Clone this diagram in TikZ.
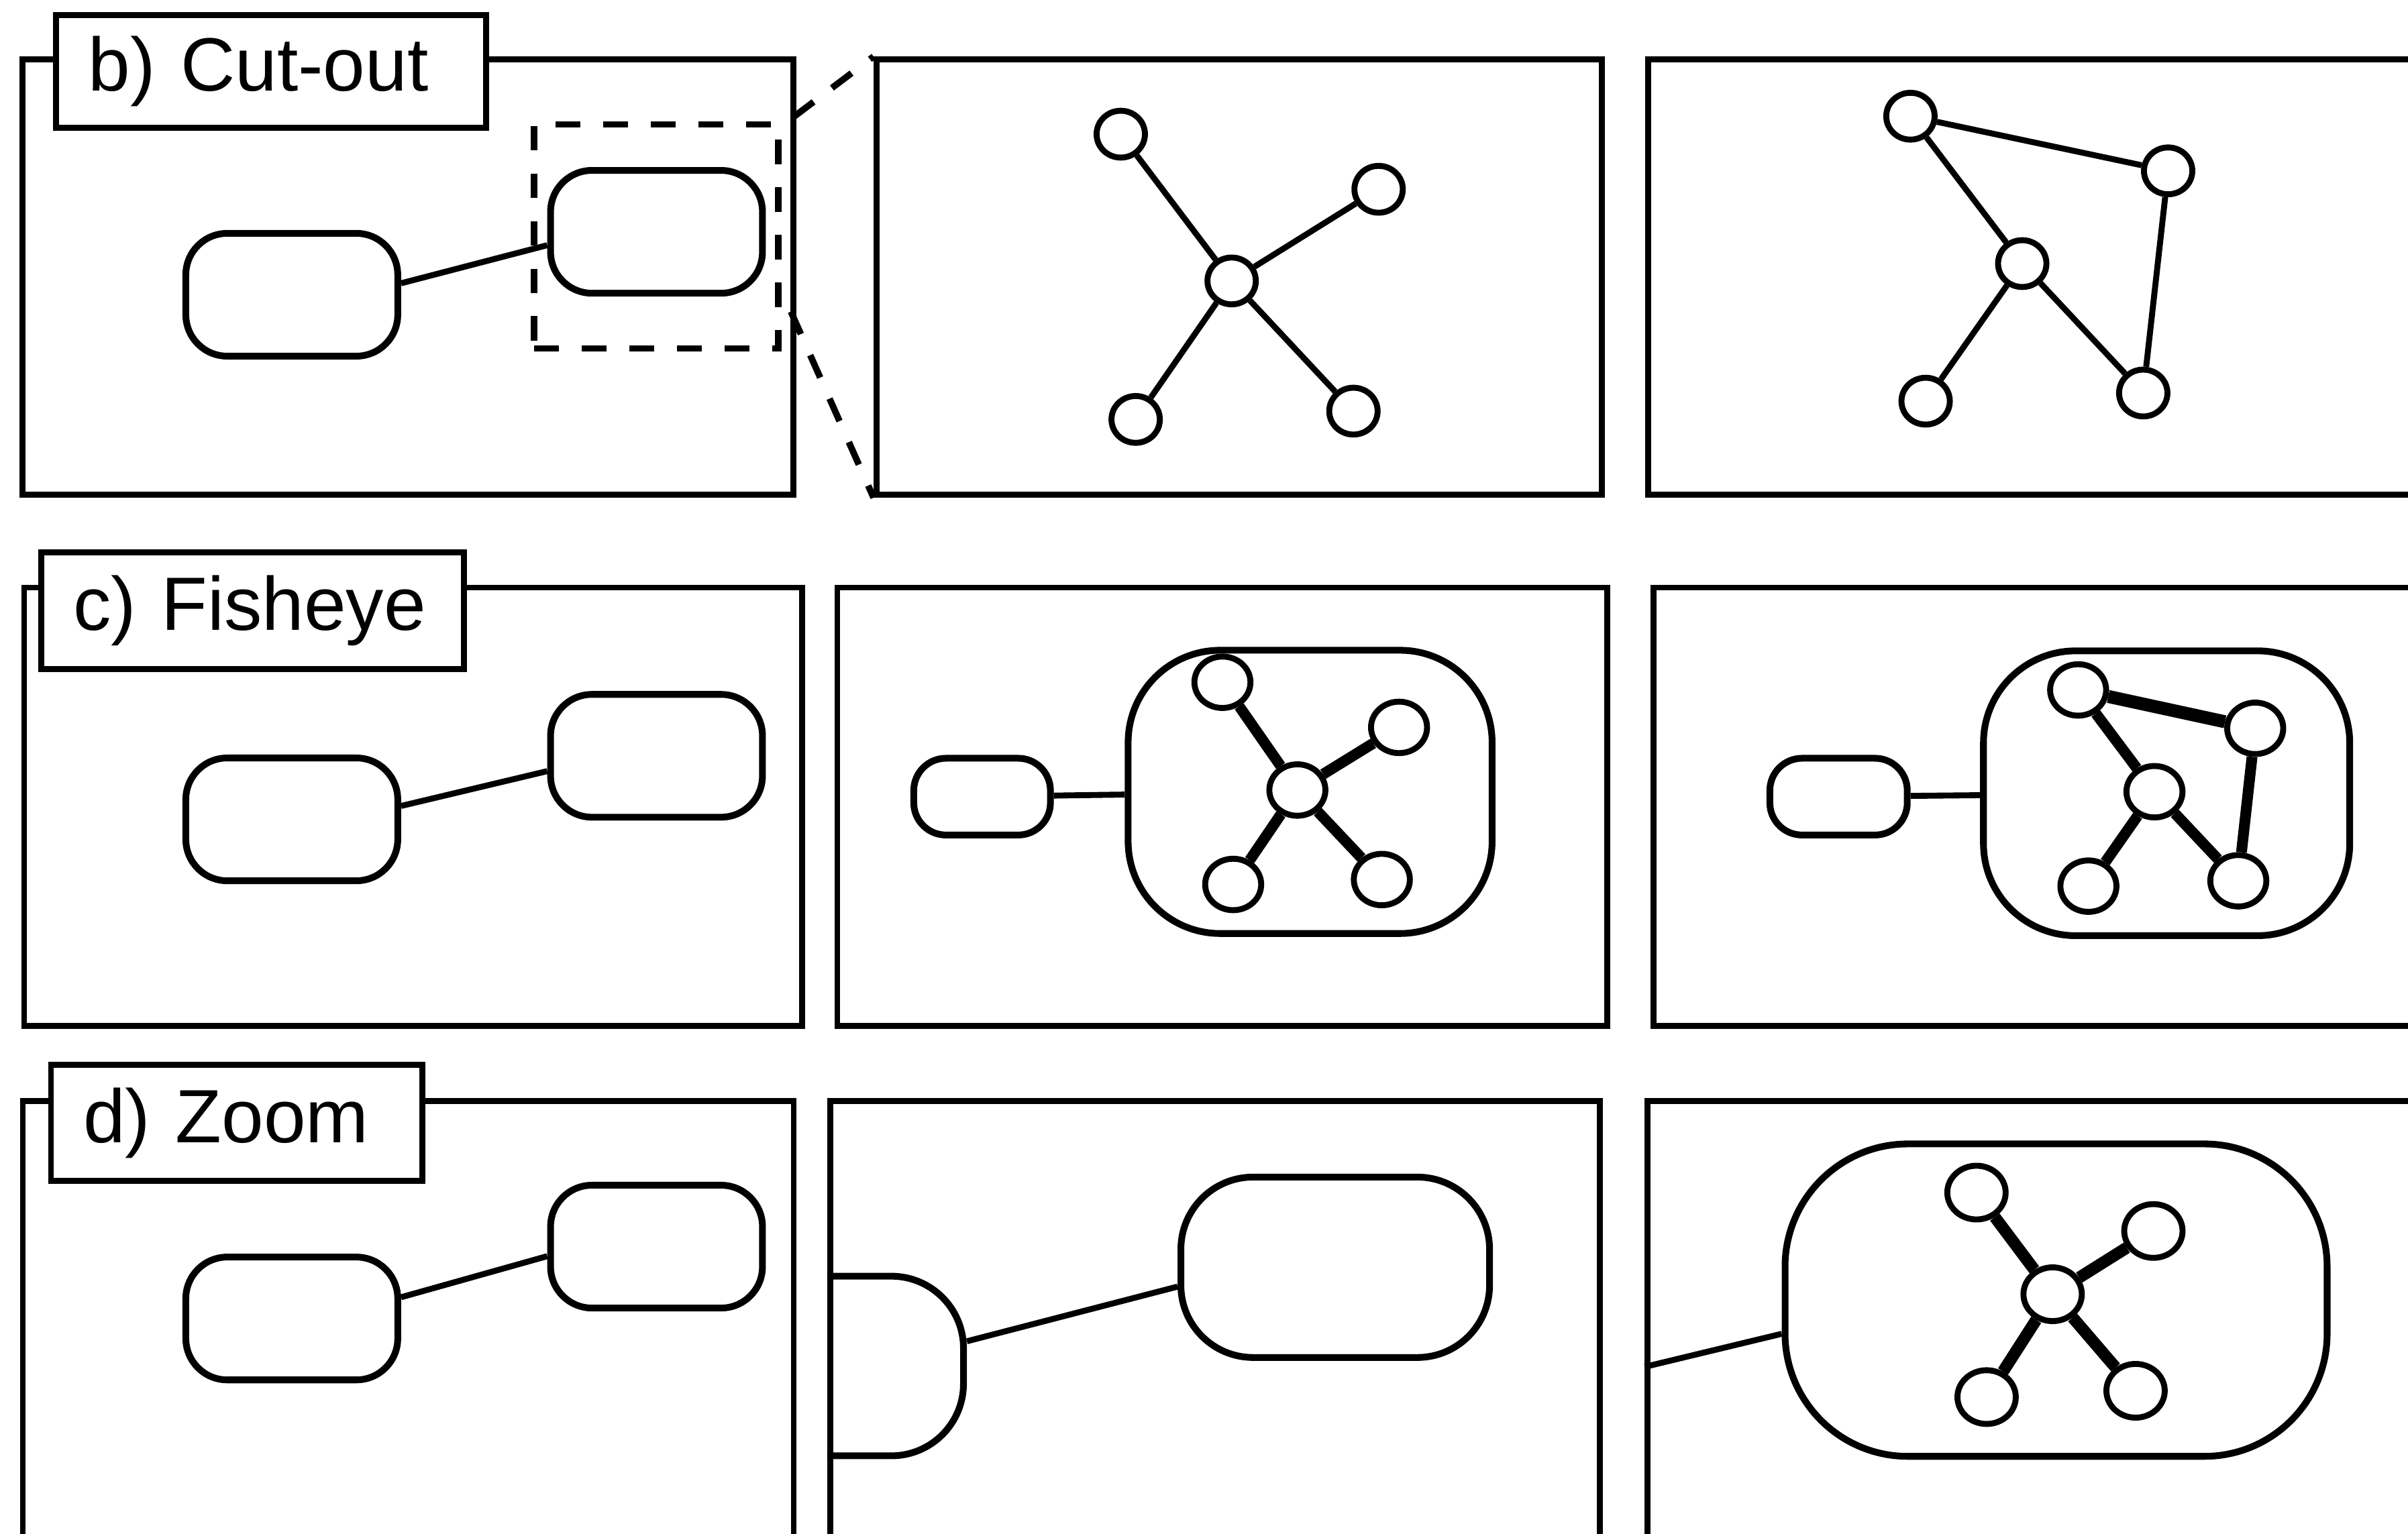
\documentclass[tikz,border=0pt]{standalone}
\usepackage{fontspec}
\setmainfont{Liberation Sans}
\usepackage{tikz}
\usetikzlibrary{shapes.geometric}

\begin{document}
\begin{tikzpicture}[
    x=0.1mm, y=-0.1mm,
    panel/.style={draw, line width=1.1pt, inner sep=0pt},
    tab/.style={draw, fill=white, line width=1.1pt, inner xsep=2.1mm, inner ysep=0pt, align=left, font=\fontsize{14pt}{16pt}\selectfont},
    blob/.style={draw, line width=1.25pt, rounded corners=2.7mm, minimum width=13.8mm, minimum height=8mm, inner sep=0pt},
    vtx/.style={draw, ellipse, fill=white, line width=1.1pt, inner sep=0pt, minimum width=3.15mm, minimum height=3.05mm},
    bigvtx/.style={vtx, minimum width=3.65mm, minimum height=3.35mm},
    hugevtx/.style={vtx, minimum width=3.8mm, minimum height=3.5mm},
    link/.style={line width=1.1pt},
    heavy/.style={line width=2pt},
    cutdash/.style={line width=1.2pt, dash pattern=on 1.6mm off 1.5mm}
]
    \useasboundingbox (0,0) rectangle (1568,999);
    \clip (0,0) rectangle (1568,999);

    % panels
    \node[panel, minimum width=50.2mm, minimum height=28.35mm] (bP1) at (265.75,180.5) {};
    \node[panel, minimum width=47.25mm, minimum height=28.35mm] (bP2) at (807,180.5) {};
    \node[panel, minimum width=54.5mm, minimum height=28.35mm] (bP3) at (1345.75,180.5) {};
    \node[panel, minimum width=50.65mm, minimum height=28.55mm] (cP1) at (269,525.5) {};
    \node[panel, minimum width=50.15mm, minimum height=28.55mm] (cP2) at (796,525.5) {};
    \node[panel, minimum width=54.15mm, minimum height=28.55mm] (cP3) at (1347.5,525.5) {};
    \node[panel, minimum width=50.2mm, minimum height=32.1mm] (dP1) at (265.85,877.75) {};
    \node[panel, minimum width=50.1mm, minimum height=32.1mm] (dP2) at (791.1,877.75) {};
    \node[panel, minimum width=54.55mm, minimum height=32.1mm] (dP3) at (1345.5,877.75) {};

    \node[tab, text width=23.8mm, minimum height=7.35mm] (bTab) at (176.5,46.5) {b) Cut-out};
    \node[tab, text width=23.35mm, minimum height=7.6mm] (cTab) at (164.5,397.8) {c) Fisheye};
    \node[tab, text width=20mm, minimum height=7.55mm] (dTab) at (154.2,731.5) {d) Zoom};

    % b) cut-out
    \node[blob] (bA) at (190,192) {};
    \node[blob] (bB) at (427.5,151) {};
    \draw[link] (bA.6) -- (bB.187);
    \node[draw, cutdash, minimum width=15.9mm, minimum height=14.6mm] (bFrame) at (427.3,154) {};
    \coordinate (bFrom1) at (517,76);
    \coordinate (bFrom2) at (515,203);
    \draw[cutdash] (bFrom1) -- (bP2.north west);
    \draw[cutdash] (bFrom2) -- (bP2.south west);

    \node[vtx] (bS0) at (802,183) {};
    \node[vtx] (bS1) at (729.8,87.4) {};
    \node[vtx] (bS2) at (897.7,123.3) {};
    \node[vtx] (bS3) at (739.5,273.2) {};
    \node[vtx] (bS4) at (881.3,267.8) {};
    \draw[link] (bS0) -- (bS1);
    \draw[link] (bS0) -- (bS2);
    \draw[link] (bS0) -- (bS3);
    \draw[link] (bS0) -- (bS4);

    \node[vtx] (bT0) at (1316.8,171.7) {};
    \node[vtx] (bT1) at (1244,75.7) {};
    \node[vtx] (bT2) at (1411.8,111.3) {};
    \node[vtx] (bT3) at (1253.9,261.3) {};
    \node[vtx] (bT4) at (1395.6,256) {};
    \draw[link] (bT1) -- (bT2);
    \draw[link] (bT1) -- (bT0);
    \draw[link] (bT0) -- (bT3);
    \draw[link] (bT0) -- (bT4);
    \draw[link] (bT2) -- (bT4);

    % c) fisheye
    \node[blob] (cA) at (190,533.7) {};
    \node[blob] (cB) at (427.5,492.3) {};
    \draw[link] (cA.7) -- (cB.188);

    \node[blob, rounded corners=2.1mm, minimum width=8.9mm, minimum height=5mm] (cFa) at (639.5,518.9) {};
    \node[blob, rounded corners=6mm, minimum width=23.7mm, minimum height=18.45mm] (cFb) at (853.1,515.8) {};
    \draw[link] (cFa) -- (cFb);
    \node[bigvtx] (cS0) at (844.8,514.6) {};
    \node[bigvtx] (cS1) at (796,444.4) {};
    \node[bigvtx] (cS2) at (911,473.8) {};
    \node[bigvtx] (cS3) at (803,576.1) {};
    \node[bigvtx] (cS4) at (899.8,572.9) {};
    \draw[heavy] (cS0) -- (cS1);
    \draw[heavy] (cS0) -- (cS2);
    \draw[heavy] (cS0) -- (cS3);
    \draw[heavy] (cS0) -- (cS4);

    \node[blob, rounded corners=2.1mm, minimum width=8.95mm, minimum height=5mm] (cGa) at (1197.2,518.9) {};
    \node[blob, rounded corners=6mm, minimum width=23.85mm, minimum height=18.55mm] (cGb) at (1410.8,516.7) {};
    \draw[link] (cGa) -- (cGb);
    \node[bigvtx] (cT0) at (1402.9,515.7) {};
    \node[bigvtx] (cT1) at (1353.2,449.4) {};
    \node[bigvtx] (cT2) at (1468.5,474.4) {};
    \node[bigvtx] (cT3) at (1359.9,577.2) {};
    \node[bigvtx] (cT4) at (1457.5,573.7) {};
    \draw[heavy, line width=2.4pt] (cT1) -- (cT2);
    \draw[heavy] (cT1) -- (cT0);
    \draw[heavy] (cT0) -- (cT3);
    \draw[heavy] (cT0) -- (cT4);
    \draw[heavy] (cT2) -- (cT4);

    % d) zoom
    \node[blob] (dA) at (190,858.8) {};
    \node[blob] (dB) at (427.5,812) {};
    \draw[link] (dA.11) -- (dB.185);

    \begin{scope}
        \clip (dP2.north west) rectangle (dP2.south east);
        \node[blob, rounded corners=4.7mm, minimum width=19.9mm, minimum height=11.7mm] (dZa) at (527.9,889.75) {};
    \end{scope}
    \node[blob, rounded corners=4.7mm, minimum width=20.1mm, minimum height=11.75mm] (dZb) at (869.45,825.45) {};
    \draw[link] (dZa.9) -- (dZb.187);

    \coordinate (dIn) at (1071,890.3);
    \node[blob, rounded corners=8mm, minimum width=35.3mm, minimum height=20.35mm] (dZc) at (1338.85,846.85) {};
    \draw[link] (dIn) -- (dZc.187);
    \node[hugevtx] (dS0) at (1336.6,843) {};
    \node[hugevtx] (dS1) at (1287,776.8) {};
    \node[hugevtx] (dS2) at (1402.2,801.8) {};
    \node[hugevtx] (dS3) at (1293.6,910) {};
    \node[hugevtx] (dS4) at (1390.6,905.9) {};
    \draw[heavy, line width=2.2pt] (dS0) -- (dS1);
    \draw[heavy, line width=2.2pt] (dS0) -- (dS2);
    \draw[heavy, line width=2.2pt] (dS0) -- (dS3);
    \draw[heavy, line width=2.2pt] (dS0) -- (dS4);
\end{tikzpicture}
\end{document}
